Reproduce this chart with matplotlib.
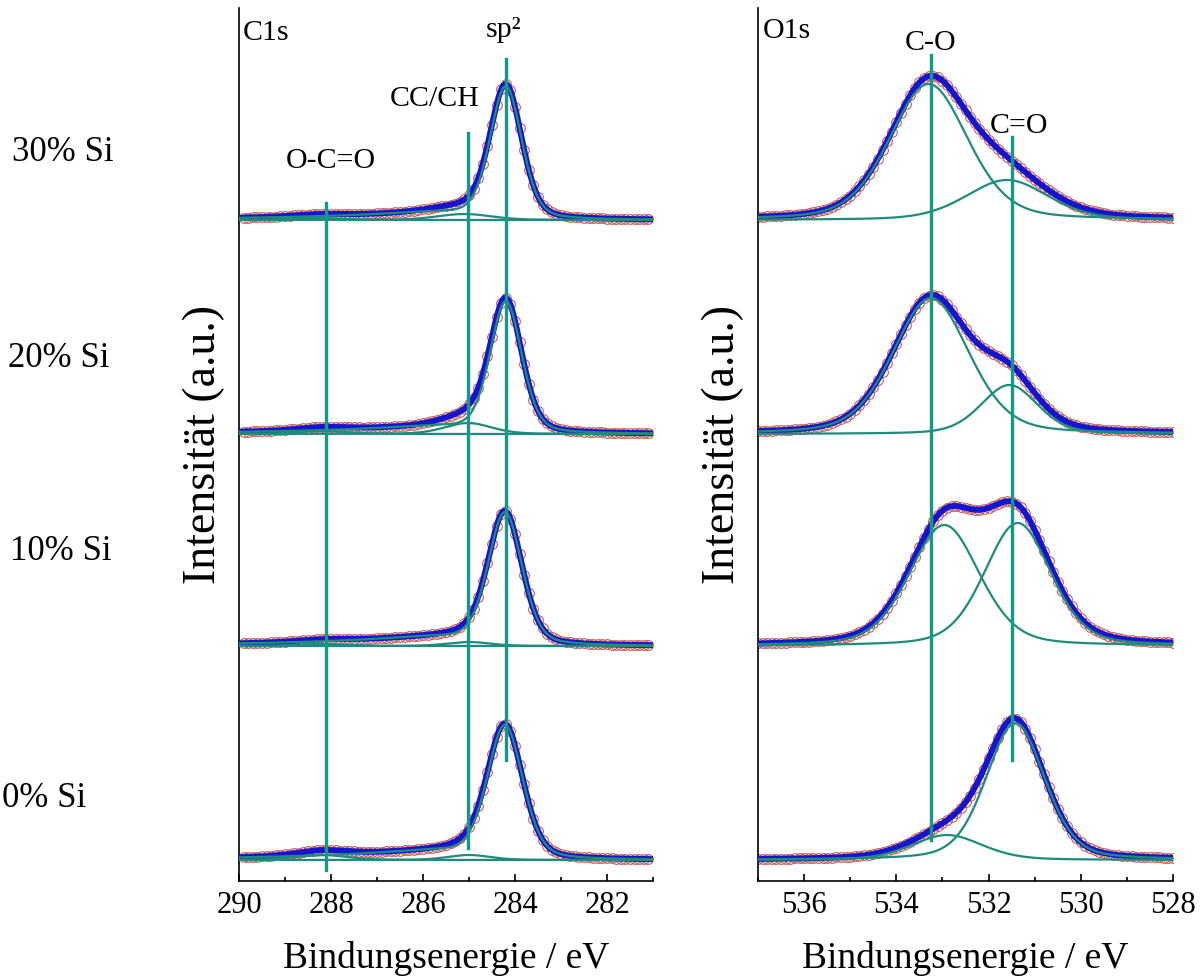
import numpy as np
import matplotlib.pyplot as plt

plt.rcParams['font.family'] = ['Liberation Serif', 'DejaVu Serif']

# samples from bottom to top
samples = ['0% Si', '10% Si', '20% Si', '30% Si']

# C1s fit components (binding energy eV, height a.u., FWHM eV)
c1s_sp2_pos = [284.22, 284.22, 284.20, 284.20]
c1s_sp2_height = [135, 134, 133, 134]
c1s_sp2_fwhm = [0.92, 0.88, 0.82, 0.82]
c1s_sp2_tail = [0.12, 0.12, 0.10, 0.10]
c1s_cc_pos = [285.0, 285.0, 285.02, 285.1]
c1s_cc_height = [5, 4, 11, 6]
c1s_cc_fwhm = [1.1, 1.1, 1.2, 1.4]
c1s_oco_pos = [288.2, 288.2, 288.2, 288.3]
c1s_oco_height = [5, 2, 3, 2]
c1s_oco_fwhm = [1.3, 1.3, 1.3, 1.3]

# O1s fit components
o1s_co_pos = [532.9, 532.96, 533.25, 533.3]
o1s_co_height = [25, 121, 136, 136]
o1s_co_fwhm = [1.8, 1.8, 1.95, 2.0]
o1s_cdo_pos = [531.42, 531.37, 531.55, 531.6]
o1s_cdo_height = [137, 123, 49, 40]
o1s_cdo_fwhm = [1.5, 1.7, 1.45, 2.1]

# marker lines
c1s_lines = [288.1, 285.03, 284.2]
c1s_line_labels = ['O-C=O', 'CC/CH', 'sp\u00b2']
o1s_lines = [533.24, 531.5]
o1s_line_labels = ['C-O', 'C=O']

offsets = [21, 235, 447, 661]

FIT = '#1515d0'
COMP = '#1e8c7c'
VLINE = '#17968a'
DATA = '#cc5a55'


def pv(x, c, h, w, eta=0.3):
    d = (x - c) / w
    return h * ((1 - eta) * np.exp(-4 * np.log(2) * d ** 2) + eta / (1 + 4 * d ** 2))


def sp2_peak(x, c, h, w, a):
    dx = np.clip(x - c, 0, None)
    tail = a * (1 - np.exp(-(dx / 1.2) ** 2)) * np.exp(-dx / 3.0)
    return pv(x, c, h, w) + h * tail


fig = plt.figure(figsize=(12.04, 9.76), dpi=100)
ax1 = fig.add_axes([239 / 1204, 95 / 976, 414 / 1204, 873 / 976])
ax2 = fig.add_axes([758 / 1204, 95 / 976, 415 / 1204, 873 / 976])

x_c = np.arange(289.9, 281.05, -0.1)
x_o = np.arange(537.0, 527.95, -0.1)
xf_c = np.linspace(290, 281, 900)
xf_o = np.linspace(537, 528, 900)


def draw(ax, comps, xd, xf, off):
    fit_d = sum(f(xd) for f in comps) + off
    fit_f = sum(f(xf) for f in comps) + off
    ax.plot(xd, fit_d, 'o', ms=7, mfc='none', mec=DATA, mew=0.8, zorder=2)
    ax.plot(xf, fit_f, color=FIT, lw=4.3, zorder=3)
    for f in comps:
        ax.plot(xf, f(xf) + off, color=COMP, lw=1.6, zorder=4)


for i in range(4):
    comps_c = [
        lambda x, i=i: sp2_peak(x, c1s_sp2_pos[i], c1s_sp2_height[i], c1s_sp2_fwhm[i], c1s_sp2_tail[i]),
        lambda x, i=i: pv(x, c1s_cc_pos[i], c1s_cc_height[i], c1s_cc_fwhm[i]),
        lambda x, i=i: pv(x, c1s_oco_pos[i], c1s_oco_height[i], c1s_oco_fwhm[i]),
    ]
    draw(ax1, comps_c, x_c, xf_c, offsets[i])
    comps_o = [
        lambda x, i=i: pv(x, o1s_co_pos[i], o1s_co_height[i], o1s_co_fwhm[i]),
        lambda x, i=i: pv(x, o1s_cdo_pos[i], o1s_cdo_height[i], o1s_cdo_fwhm[i]),
    ]
    draw(ax2, comps_o, x_o, xf_o, offsets[i])

# vertical guide lines (y ranges in plot units)
c1s_spans = [(11, 678), (33, 748), (121, 822)]
o1s_spans = [(41, 826), (121, 744)]
for e, (y0, y1) in zip(c1s_lines, c1s_spans):
    ax1.plot([e, e], [y0, y1], color=VLINE, lw=2.4, zorder=5)
for e, (y0, y1) in zip(o1s_lines, o1s_spans):
    ax2.plot([e, e], [y0, y1], color=VLINE, lw=2.4, zorder=5)

fs = 21.5
ax1.text(0.01, 841, 'C1s', transform=ax1.get_yaxis_transform(), fontsize=fs, va='baseline')
ax2.text(0.012, 843, 'O1s', transform=ax2.get_yaxis_transform(), fontsize=fs, va='baseline')
c1s_text_pos = [(288.0, 713), (285.74, 775), (284.26, 844)]
for lab, (tx, ty) in zip(c1s_line_labels, c1s_text_pos):
    ax1.text(tx, ty, lab, fontsize=fs, ha='center', va='baseline')
o1s_text_pos = [(533.26, 831), (531.33, 748)]
for lab, (tx, ty) in zip(o1s_line_labels, o1s_text_pos):
    ax2.text(tx, ty, lab, fontsize=fs, ha='center', va='baseline')

for ax, lim, ticks in [(ax1, (290, 281), np.arange(290, 281, -2)),
                       (ax2, (537, 528), np.arange(536, 527, -2))]:
    ax.set_xlim(*lim)
    ax.set_ylim(0, 873)
    ax.set_xticks(ticks)
    ax.set_xticks(np.arange(lim[0], lim[1] - 0.5, -1), minor=True)
    ax.set_yticks([])
    ax.spines['top'].set_visible(False)
    ax.spines['right'].set_visible(False)
    ax.spines['left'].set_linewidth(1.2)
    ax.spines['bottom'].set_linewidth(1.2)
    ax.tick_params(axis='x', which='major', direction='in', length=5, width=1.2,
                   labelsize=22, pad=7)
    ax.tick_params(axis='x', which='minor', direction='in', length=3, width=1.2)
    ax.set_xlabel('Bindungsenergie / eV', fontsize=27, labelpad=15)
    ax.set_ylabel('Intensität (a.u.)', fontsize=33, labelpad=10)

label_pos = [(2, 807), (10, 560), (8, 367), (12, 161)]
for lab, (px, py) in zip(samples, label_pos):
    fig.text(px / 1204, 1 - py / 976, lab, fontsize=25, va='baseline')

fig.savefig('out.png', dpi=100)
